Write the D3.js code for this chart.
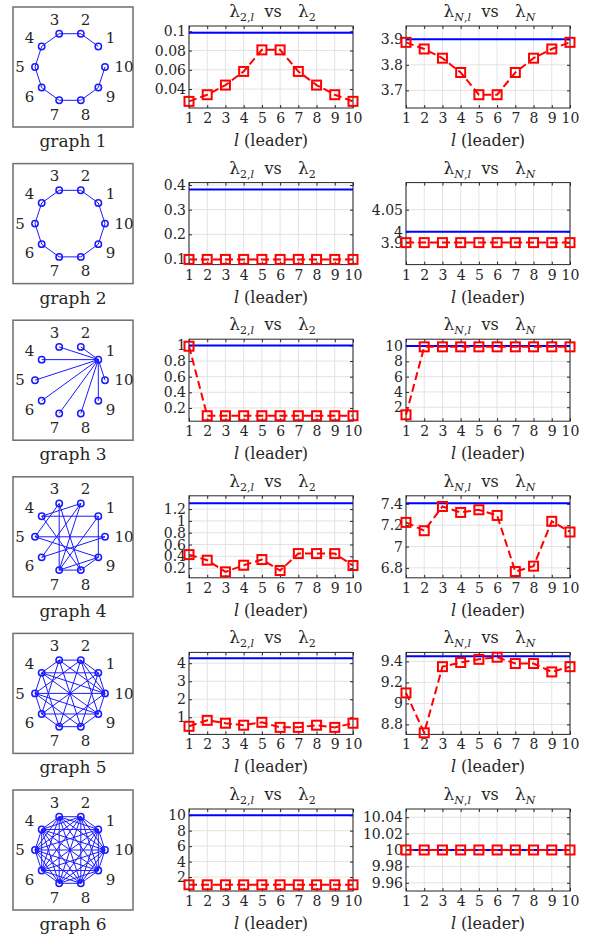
<!DOCTYPE html>
<html>
<head>
<meta charset="utf-8">
<script src="https://cdn.jsdelivr.net/npm/d3@7"></script>
<style>
  body { margin: 0; background: #fff; }
  #chart, #chart text { font-family: "DejaVu Serif", serif !important; }
</style>
</head>
<body>
<svg id="chart" width="592" height="941"></svg>
<script>
//Leaders on the x axis
const leaders = [1, 2, 3, 4, 5, 6, 7, 8, 9, 10];
const graphNames = ["graph 1", "graph 2", "graph 3", "graph 4", "graph 5", "graph 6"];

//Edges of the six graphs (node numbers 1..10)
const edges1 = [[1,2],[2,3],[3,4],[4,5],[5,6],[6,7],[7,8],[8,9],[9,10]];
const edges2 = [[1,2],[2,3],[3,4],[4,5],[5,6],[6,7],[7,8],[8,9],[9,10],[10,1]];
const edges3 = [[1,2],[1,3],[1,4],[1,5],[1,6],[1,7],[1,8],[1,9],[1,10]];
const edges4 = [[1,4],[1,9],[1,7],[2,4],[2,6],[2,7],[3,5],[3,8],[3,7],[4,8],[5,9],[5,10],[6,10],[7,8],[7,9],[8,9]];
const edges5 = [[1,2],[2,3],[3,4],[4,5],[5,6],[6,7],[7,8],[8,9],[9,10],[10,1],
                [1,4],[1,6],[1,8],[2,5],[2,7],[2,9],[2,10],[3,6],[3,8],[3,10],
                [4,7],[4,9],[4,10],[5,8],[5,10],[6,9],[7,10],[5,9]];
const edges6 = [];
for (let i = 1; i <= 10; i++) for (let j = i + 1; j <= 10; j++) edges6.push([i, j]);
const allEdges = [edges1, edges2, edges3, edges4, edges5, edges6];

//Blue reference values (lambda_2 and lambda_N of each graph)
const lam2 = [0.0986, 0.382, 1, 1.30, 4.28, 10];
const lamN = [3.90, 4, 10, 7.406, 9.45, 10];

//Red values per leader
const lam2l = [
  [0.0272, 0.0341, 0.0441, 0.0583, 0.0807, 0.0807, 0.0583, 0.0441, 0.0341, 0.0272],
  [0.098, 0.098, 0.098, 0.098, 0.098, 0.098, 0.098, 0.098, 0.098, 0.098],
  [0.99, 0.1, 0.1, 0.1, 0.1, 0.1, 0.1, 0.1, 0.1, 0.1],
  [0.43, 0.335, 0.138, 0.25, 0.346, 0.16, 0.447, 0.447, 0.447, 0.245],
  [0.5, 0.83, 0.67, 0.56, 0.72, 0.44, 0.44, 0.56, 0.44, 0.67],
  [1, 1, 1, 1, 1, 1, 1, 1, 1, 1]
];
const lamNl = [
  [3.888, 3.862, 3.826, 3.770, 3.683, 3.683, 3.770, 3.826, 3.862, 3.888],
  [3.9, 3.9, 3.9, 3.9, 3.9, 3.9, 3.9, 3.9, 3.9, 3.9],
  [1, 9.9, 9.9, 9.9, 9.9, 9.9, 9.9, 9.9, 9.9, 9.9],
  [7.226, 7.148, 7.375, 7.319, 7.344, 7.291, 6.766, 6.816, 7.236, 7.136],
  [9.1, 8.72, 9.35, 9.39, 9.42, 9.44, 9.38, 9.38, 9.3, 9.35],
  [10, 10, 10, 10, 10, 10, 10, 10, 10, 10]
];

//Y axis limits and ticks
const dom2 = [[0.0203, 0.1055], [0.077, 0.41], [0.03, 1.08], [0.037, 1.425], [0.05, 4.6], [0.2, 10.8]];
const ticks2 = [[0.04, 0.06, 0.08, 0.1], [0.1, 0.2, 0.3, 0.4], [0.2, 0.4, 0.6, 0.8, 1],
                [0.2, 0.4, 0.6, 0.8, 1, 1.2], [1, 2, 3, 4], [2, 4, 6, 8, 10]];
const domN = [[3.631, 3.952], [3.7, 3.9, 4, 4.05, 4.111], [0.17, 10.9], [6.707, 7.475], [8.705, 9.486], [9.95, 10.05]];
const ticksN = [[3.7, 3.8, 3.9], [3.9, 4, 4.05], [2, 4, 6, 8, 10], [6.8, 7, 7.2, 7.4],
                [8.8, 9, 9.2, 9.4], [9.96, 9.98, 10, 10.02, 10.04]];
//the second right panel has an uneven axis in the picture
const stopsN2 = [0, 0.268, 0.402, 0.67, 1];

const ink = "#262626";

let svg = d3.select("#chart");
const pitch = 156.6;
const plotTop = 26, plotH = 82;
const cols = [{left: 189, right: 353, sub: "2"}, {left: 406, right: 570, sub: "N"}];

function txt(sel) {
  return sel.append("text").attr("fill", ink);
}

//Graph pictures on the left
function drawGraph(r) {
  let top = 7 + r * pitch;
  let g = svg.append("g").attr("transform", "translate(13," + top + ")");
  g.append("rect").attr("width", 120).attr("height", 120)
    .attr("fill", "none").attr("stroke", "#6e6e6e").attr("stroke-width", 1.5);
  let ang = d3.scaleLinear().domain([0, 10]).range([0, 2 * Math.PI]);
  let cx = 57, cy = 60, rad = 35, lr = 50;
  let pos = k => [cx + rad * Math.cos(ang(k)), cy - rad * Math.sin(ang(k))];
  g.selectAll(".edge").data(allEdges[r]).enter().append("line")
    .attr("x1", d => pos(d[0])[0]).attr("y1", d => pos(d[0])[1])
    .attr("x2", d => pos(d[1])[0]).attr("y2", d => pos(d[1])[1])
    .attr("stroke", "#1a1aff").attr("stroke-width", 1);
  g.selectAll(".node").data(leaders).enter().append("circle")
    .attr("cx", d => pos(d)[0]).attr("cy", d => pos(d)[1]).attr("r", 3.2)
    .attr("fill", "none").attr("stroke", "#1a1aff").attr("stroke-width", 1.5);
  leaders.forEach(d => {
    txt(g).attr("x", cx + (lr + (d == 10 ? 4 : 0)) * Math.cos(ang(d)))
      .attr("y", cy - lr * Math.sin(ang(d)))
      .attr("dy", "0.35em").attr("text-anchor", "middle")
      .attr("font-size", 15).text(d);
  });
  txt(svg).attr("x", 73).attr("y", top + 140)
    .attr("text-anchor", "middle").attr("font-size", 17).text(graphNames[r]);
}

//Title like  lambda_{2,l}  vs  lambda_2
function drawTitle(cx, y, sub) {
  let t1 = txt(svg).attr("x", cx - 17).attr("y", y).attr("text-anchor", "end").attr("font-size", 17);
  t1.append("tspan").text("λ");
  t1.append("tspan").attr("dy", 4).attr("font-size", 11)
    .attr("font-style", sub == "N" ? "italic" : "normal").text(sub);
  t1.append("tspan").attr("font-size", 11).text(",");
  t1.append("tspan").attr("font-size", 11).attr("font-style", "italic").text("l");
  txt(svg).attr("x", cx + 2).attr("y", y).attr("text-anchor", "middle")
    .attr("font-size", 16).text("vs");
  let t2 = txt(svg).attr("x", cx + 27).attr("y", y).attr("text-anchor", "start").attr("font-size", 17);
  t2.append("tspan").text("λ");
  t2.append("tspan").attr("dy", 4).attr("font-size", 11)
    .attr("font-style", sub == "N" ? "italic" : "normal").text(sub);
}

function drawPanel(r, c) {
  let col = cols[c];
  let top = plotTop + r * pitch, bottom = top + plotH;
  let x = d3.scaleLinear().domain([1, 10]).range([col.left, col.right]);
  let dom = c == 0 ? dom2[r] : domN[r];
  let y = d3.scaleLinear().domain(dom);
  if (dom.length > 2) y.range(stopsN2.map(f => bottom - f * plotH));
  else y.range([bottom, top]);
  let ticks = c == 0 ? ticks2[r] : ticksN[r];
  let blue = c == 0 ? lam2[r] : lamN[r];
  let red = c == 0 ? lam2l[r] : lamNl[r];
  let g = svg.append("g");

  //grid
  g.selectAll(".gx").data(leaders).enter().append("line")
    .attr("x1", d => x(d)).attr("x2", d => x(d)).attr("y1", top).attr("y2", bottom)
    .attr("stroke", "#e3e3e3").attr("stroke-width", 1);
  g.selectAll(".gy").data(ticks).enter().append("line")
    .attr("y1", d => y(d)).attr("y2", d => y(d)).attr("x1", col.left).attr("x2", col.right)
    .attr("stroke", "#e3e3e3").attr("stroke-width", 1);

  //axes with inward ticks
  let xAxis = d3.axisBottom(x).tickValues(leaders).tickSizeInner(-3).tickSizeOuter(0).tickPadding(5);
  g.append("g").attr("transform", "translate(0," + bottom + ")").call(xAxis);
  let yAxis = d3.axisLeft(y).tickValues(ticks).tickSizeInner(-3).tickSizeOuter(0).tickPadding(3)
    .tickFormat(d => String(d));
  g.append("g").attr("transform", "translate(" + col.left + ",0)").call(yAxis);
  g.append("g").attr("transform", "translate(0," + top + ")")
    .call(d3.axisTop(x).tickValues(leaders).tickSizeInner(-3).tickSizeOuter(0).tickFormat(""));
  g.append("g").attr("transform", "translate(" + col.right + ",0)")
    .call(d3.axisRight(y).tickValues(ticks).tickSizeInner(-3).tickSizeOuter(0).tickFormat(""));
  g.selectAll(".domain").remove();
  g.selectAll(".tick line").attr("stroke", ink);
  g.selectAll(".tick text").attr("font-size", 14).attr("fill", ink);
  g.append("rect").attr("x", col.left).attr("y", top)
    .attr("width", col.right - col.left).attr("height", plotH)
    .attr("fill", "none").attr("stroke", ink).attr("stroke-width", 1);

  //blue reference line
  g.append("line").attr("x1", x(1)).attr("x2", x(10))
    .attr("y1", y(blue)).attr("y2", y(blue))
    .attr("stroke", "#0000ff").attr("stroke-width", 2);

  //red dashed line with square markers
  let line = d3.line().x((d, i) => x(leaders[i])).y(d => y(d));
  g.append("path").datum(red).attr("d", line)
    .attr("fill", "none").attr("stroke", "#ff0000").attr("stroke-width", 2)
    .attr("stroke-dasharray", "8,4");
  g.selectAll(".sq").data(red).enter().append("rect")
    .attr("x", (d, i) => x(leaders[i]) - 4.5).attr("y", d => y(d) - 4.5)
    .attr("width", 9).attr("height", 9)
    .attr("fill", "none").attr("stroke", "#ff0000").attr("stroke-width", 2);

  //title and x label
  let cx = (col.left + col.right) / 2;
  drawTitle(cx, top - 9, col.sub);
  let xl = txt(svg).attr("x", cx).attr("y", bottom + 38)
    .attr("text-anchor", "middle").attr("font-size", 16);
  xl.append("tspan").attr("font-style", "italic").text("l");
  xl.append("tspan").text(" (leader)");
}

for (let r = 0; r < 6; r++) {
  drawGraph(r);
  drawPanel(r, 0);
  drawPanel(r, 1);
}
</script>
</body>
</html>
